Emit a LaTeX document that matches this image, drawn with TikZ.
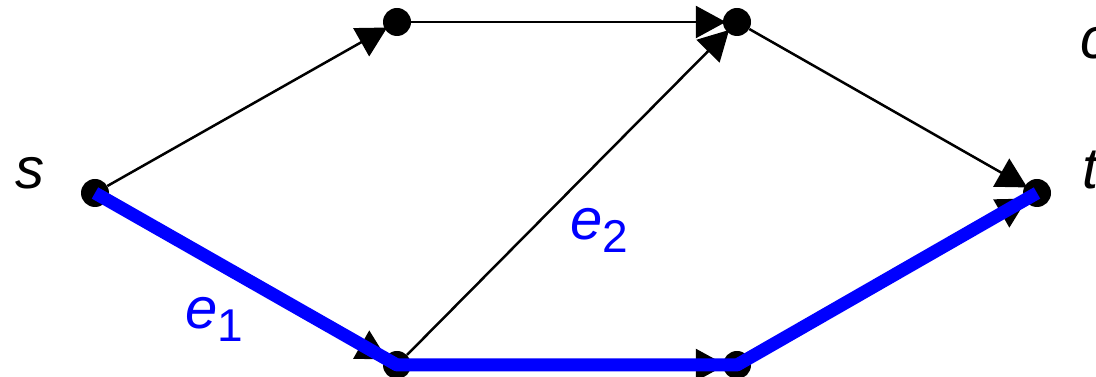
\documentclass[tikz,border=0pt]{standalone}
\usepackage{fontspec}
\setmainfont{Liberation Sans}
\usetikzlibrary{arrows.meta}
\definecolor{pathblue}{RGB}{0,0,255}
\tikzset{
  vtx/.style={circle,fill=black,inner sep=0pt,minimum size=28pt},
  edge/.style={draw=black,line width=2.5pt,-{Triangle[length=30pt,width=32pt]},shorten >=-3pt},
  hl/.style={draw=pathblue,line width=13pt,line join=round},
  lbl/.style={font=\fontsize{58}{60}\selectfont\itshape,inner sep=0pt,anchor=base west},
}
\newcommand{\subsc}[1]{\raisebox{-0.22em}{\fontsize{46}{46}\selectfont\upshape #1}}
\begin{document}
\begin{tikzpicture}[x=1pt,y=1pt]
\useasboundingbox (0,0) rectangle (1096,377);
\node[vtx] (s) at (95,184) {};
\node[vtx] (a) at (397,355) {};
\node[vtx] (b) at (737,355) {};
\node[vtx] (t) at (1037,184) {};
\node[vtx] (c) at (397,12) {};
\node[vtx] (d) at (737,12) {};
\draw[edge] (s) -- (a);
\draw[edge] (a) -- (b);
\draw[edge] (c) -- (b);
\draw[edge] (b) -- (t);
\draw[edge] (s) -- (c);
\draw[edge] (c) -- (d);
\draw[edge] (d) -- (t);
\draw[hl] (s.center) -- (c.center) -- (d.center) -- (t.center);
\node[lbl] (ls) at (15,188) {s};
\node[lbl] (lt) at (1082,188) {t};
\node[lbl] (lc) at (1080,318) {c};
\node[lbl,text=pathblue] (le2) at (570,137) {e\subsc{2}};
\node[lbl,text=pathblue] (le1) at (185,48) {e\subsc{1}};
\end{tikzpicture}
\end{document}
